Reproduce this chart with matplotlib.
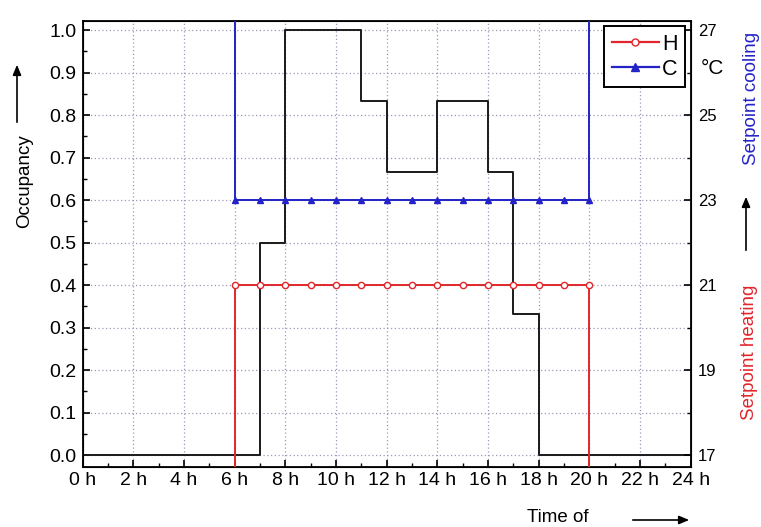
import numpy as np
import matplotlib
matplotlib.use("Agg")
import matplotlib.pyplot as plt
from matplotlib.ticker import MultipleLocator, FixedLocator

plt.rcParams['font.family'] = ['Liberation Sans', 'DejaVu Sans']

# Hourly schedule (value holds from hour h to h+1)
hours = np.arange(0, 25)
occupancy = [0, 0, 0, 0, 0, 0, 0, 0.5, 1.0, 1.0, 1.0, 0.833, 0.667, 0.667,
             0.833, 0.833, 0.667, 0.333, 0, 0, 0, 0, 0, 0, 0]

# Setpoints (deg C); outside operating hours the setpoints are off-scale
heat_hours = [0, 6, 6, 20, 20, 24]
heat_vals = [15, 15, 21, 21, 15, 15]
cool_hours = [0, 6, 6, 20, 20, 24]
cool_vals = [30, 30, 23, 23, 30, 30]
marker_hours = list(range(6, 21))
heat_marker_vals = [21] * len(marker_hours)
cool_marker_vals = [23] * len(marker_hours)

xtick_vals = list(range(0, 25, 2))
xtick_labels = [f"{h} h" for h in xtick_vals]
temp_ticks = [17, 19, 21, 23, 25, 27]

RED = '#e2262b'
BLUE = '#2323c8'
GRID = '#9a9ab8'

fig = plt.figure(figsize=(7.61, 5.27), dpi=100)
ax = fig.add_axes([0.1087, 0.1144, 0.7989, 0.8463])
ax.set_xlim(0, 24)
ax.set_ylim(-0.0275, 1.022)

ax.plot(hours, occupancy, drawstyle='steps-post', color='#1a1a1a', lw=1.4, zorder=3)

ax.xaxis.set_major_locator(FixedLocator(xtick_vals))
ax.set_xticklabels(xtick_labels)
ax.xaxis.set_minor_locator(MultipleLocator(1))
ax.yaxis.set_major_locator(MultipleLocator(0.1))
ax.yaxis.set_minor_locator(MultipleLocator(0.05))
ax.yaxis.set_major_formatter(matplotlib.ticker.FormatStrFormatter('%.1f'))
ax.tick_params(which='both', direction='in', top=False, right=False)
ax.tick_params(which='major', length=5, width=1.2, labelsize=14, pad=4.5)
ax.tick_params(which='minor', length=3, width=1.0)
ax.tick_params(axis='x', pad=3.5)
ax.grid(True, which='major', color=GRID, linestyle=(0, (1, 2)), lw=0.9)
for sp in ax.spines.values():
    sp.set_linewidth(1.3)

# Temperature axis
ax2 = ax.twinx()
ax2.set_ylim(17 - 10 * 0.0275, 17 + 10 * 1.022)
ax2.plot(heat_hours, heat_vals, color=RED, lw=1.4, zorder=4)
ax2.plot(cool_hours, cool_vals, color=BLUE, lw=1.4, zorder=4)
ax2.plot(marker_hours, heat_marker_vals, linestyle='none', marker='o', ms=4.5,
         mfc='white', mec=RED, mew=1.0, zorder=5)
ax2.plot(marker_hours, cool_marker_vals, linestyle='none', marker='^', ms=5,
         mfc=BLUE, mec=BLUE, zorder=5)
ax2.yaxis.set_major_locator(FixedLocator(temp_ticks))
ax2.yaxis.set_minor_locator(MultipleLocator(1))
ax2.tick_params(which='both', direction='in')
ax2.tick_params(which='major', length=5, width=1.2, labelsize=12, pad=5)
ax2.tick_params(which='minor', length=3, width=1.0)
ax2.annotate('°C', xy=(1, 26.1), xycoords=('axes fraction', 'data'),
             xytext=(7, 0), textcoords='offset points', fontsize=15,
             va='center', ha='left')

# Legend
h_handle, = ax2.plot([], [], color=RED, lw=1.6, marker='o', ms=5, mfc='white', mec=RED)
c_handle, = ax2.plot([], [], color=BLUE, lw=1.6, marker='^', ms=5.5, mfc=BLUE, mec=BLUE)
leg = ax2.legend([h_handle, c_handle], ['H', 'C'], loc='upper right',
                 fontsize=15.5, frameon=True, fancybox=False, framealpha=1,
                 edgecolor='black', handlelength=2.2, handletextpad=0.15,
                 borderpad=0.35, labelspacing=0.2, borderaxespad=0.25)
leg.get_frame().set_linewidth(1.4)

# Axis titles with direction arrows
fig.text(25 / 761, 1 - 181 / 527, 'Occupancy', rotation=90, fontsize=13.5,
         ha='center', va='center')
fig.add_artist(matplotlib.patches.FancyArrowPatch(
    (17 / 761, 1 - 125 / 527), (17 / 761, 1 - 62 / 527), transform=fig.transFigure,
    arrowstyle='-|>,head_length=6,head_width=2.5', color='black', lw=1.2))

fig.text(752 / 761, 1 - 98 / 527, 'Setpoint cooling', rotation=90, fontsize=13.5,
         ha='center', va='center', color=BLUE)
fig.add_artist(matplotlib.patches.FancyArrowPatch(
    (746 / 761, 1 - 253 / 527), (746 / 761, 1 - 194 / 527), transform=fig.transFigure,
    arrowstyle='-|>,head_length=6,head_width=2.5', color='black', lw=1.2))
fig.text(750 / 761, 1 - 352 / 527, 'Setpoint heating', rotation=90, fontsize=13.5,
         ha='center', va='center', color=RED)

fig.text(558 / 761, 1 - 518 / 527, 'Time of', fontsize=13.5, ha='center', va='center')
fig.add_artist(matplotlib.patches.FancyArrowPatch(
    (630 / 761, 1 - 520 / 527), (692 / 761, 1 - 520 / 527), transform=fig.transFigure,
    arrowstyle='-|>,head_length=6,head_width=2.5', color='black', lw=1.2))

fig.savefig('out.png', dpi=100)
